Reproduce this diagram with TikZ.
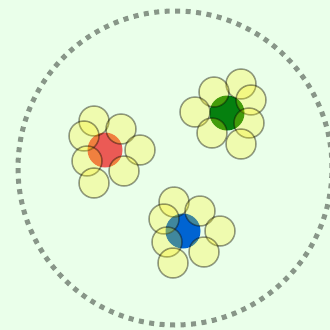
\documentclass[tikz,border=0pt]{standalone}
\usepackage{tikz}
\usetikzlibrary{calc}

\definecolor{bgcol}{RGB}{234,255,234}
\definecolor{rimcol}{RGB}{136,150,136}
\definecolor{redc}{RGB}{235,90,85}
\definecolor{greenc}{RGB}{5,128,15}
\definecolor{bluec}{RGB}{0,100,210}

\tikzset{
  petal/.style={fill=yellow, fill opacity=0.25, draw=black, draw opacity=0.4, line width=1.5pt},
  rim/.style={draw=rimcol, line width=5pt, dash pattern=on 5pt off 5.5pt}
}

\begin{document}
\begin{tikzpicture}[x=1pt,y=-1pt]
        % фон, 330x330
        \fill[bgcol] (0,0) rectangle (330,330);
        \useasboundingbox (0,0) rectangle (330,330);

        % велике пунктирне коло
        \coordinate (M) at (175,168);
        \draw[rim] (M) circle (157pt);

        % центри квіток
        \coordinate (R) at (105,150);
        \coordinate (G) at (227,113);
        \coordinate (B) at (183,231);

        \fill[redc] (R) circle (17.5pt);
        \fill[greenc] (G) circle (17.5pt);
        \fill[bluec] (B) circle (17.5pt);

        % пелюстки (у зеленої --- дзеркально)
        \foreach \dx/\dy in {-11/-29,16/-21,-21/-14,35/0,-18/11,19/21,-11/33}
            \draw[petal] ($(R)+(\dx,\dy)$) circle (15pt);
        \foreach \dx/\dy in {14/-29,-13/-21,24/-13,-32/-1,22/10,-15/20,14/31}
            \draw[petal] ($(G)+(\dx,\dy)$) circle (15pt);
        \foreach \dx/\dy in {-9/-29,17/-20,-19/-12,37/0,-16/11,21/21,-10/32}
            \draw[petal] ($(B)+(\dx,\dy)$) circle (15pt);
    \end{tikzpicture}
\end{document}
